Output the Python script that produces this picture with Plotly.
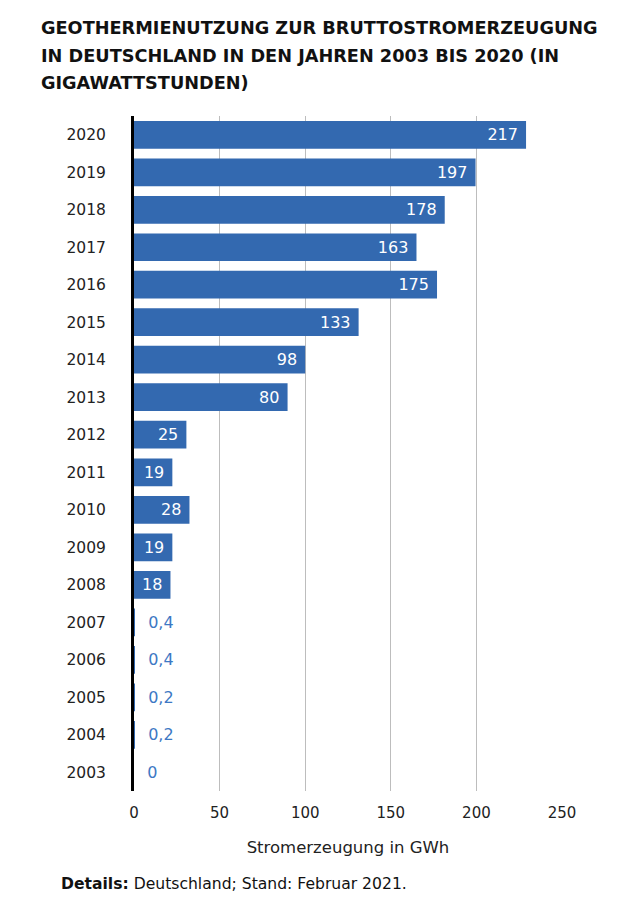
import plotly.graph_objects as go

years = ["2003", "2004", "2005", "2006", "2007", "2008", "2009", "2010", "2011",
         "2012", "2013", "2014", "2015", "2016", "2017", "2018", "2019", "2020"]
# bar lengths as drawn in the picture (GWh on the x axis)
bar_values = [0, 0.2, 0.2, 0.4, 0.4, 21.3, 22.4, 32.4, 22.4,
              30.6, 89.7, 100, 131.2, 177, 165, 181.5, 199.5, 229]
# value labels printed on the bars
value_labels = ["0", "0,2", "0,2", "0,4", "0,4", "18", "19", "28", "19",
                "25", "80", "98", "133", "175", "163", "178", "197", "217"]
x_ticks = [0, 50, 100, 150, 200, 250]

title_lines = ["GEOTHERMIENUTZUNG ZUR BRUTTOSTROMERZEUGUNG",
               "IN DEUTSCHLAND IN DEN JAHREN 2003 BIS 2020 (IN",
               "GIGAWATTSTUNDEN)"]

BAR = "#3369b0"
LBL_OUT = "#3d78c4"
FONT = "DejaVu Sans"

OFF = 8  # page body margin offset
W, H = 640 - OFF, 910 - OFF
mt, mb, ml = 116 - OFF, 119, 134 - OFF
mr = W - (562 - OFF)
plot_h = H - mt - mb

inside = [v >= 5 for v in bar_values]
texts = [(l + "\u00a0") if ins else ("\u00a0\u00a0" + l) for l, ins in zip(value_labels, inside)]
positions = ["inside" if ins else "outside" for ins in inside]
colors = ["white" if ins else LBL_OUT for ins in inside]

fig = go.Figure(go.Bar(
    y=years, x=bar_values, orientation="h",
    marker=dict(color=BAR, line=dict(width=0)),
    text=texts, textposition=positions, insidetextanchor="end",
    textfont=dict(family=FONT, size=16, color=colors),
    outsidetextfont=dict(family=FONT, size=16, color=LBL_OUT),
    insidetextfont=dict(family=FONT, size=16, color="white"),
    constraintext="none", cliponaxis=False, hoverinfo="skip",
))

def py(pix):
    return (H - mb - (pix - OFF)) / plot_h

def px(pix):
    return ((pix - OFF) - ml) / (W - ml - mr)

annotations = []
for i, line in enumerate(title_lines):
    annotations.append(dict(text="<b>" + line + "</b>", xref="paper", yref="paper",
                            x=px(39), y=py([28, 56, 83][i]),
                            xanchor="left", yanchor="middle", showarrow=False,
                            font=dict(family=FONT, size=17.7, color="#111111")))
annotations.append(dict(text="<b>Details:</b> Deutschland; Stand: Februar 2021.",
                        xref="paper", yref="paper",
                        x=px(59), y=py(884),
                        xanchor="left", yanchor="middle", showarrow=False,
                        font=dict(family=FONT, size=15.6, color="#111111")))

fig.update_layout(
    width=W, height=H,
    margin=dict(l=ml, r=mr, t=mt, b=mb),
    paper_bgcolor="white", plot_bgcolor="white",
    bargap=0.26, showlegend=False,
    annotations=annotations,
    xaxis=dict(range=[0, 250], tickvals=x_ticks, showgrid=True, gridcolor="#bdbdbd",
               gridwidth=1, zeroline=False, showline=False, ticks="",
               ticklabelstandoff=11,
               tickfont=dict(family=FONT, size=15, color="#222222"),
               title=dict(text="Stromerzeugung in GWh", standoff=20,
                          font=dict(family=FONT, size=16.5, color="#222222"))),
    yaxis=dict(showgrid=False, zeroline=False, showline=True, linewidth=3,
               linecolor="#000000", ticks="", ticklabelstandoff=22,
               tickfont=dict(family=FONT, size=15.5, color="#222222")),
)

fig.write_html("out.html")
